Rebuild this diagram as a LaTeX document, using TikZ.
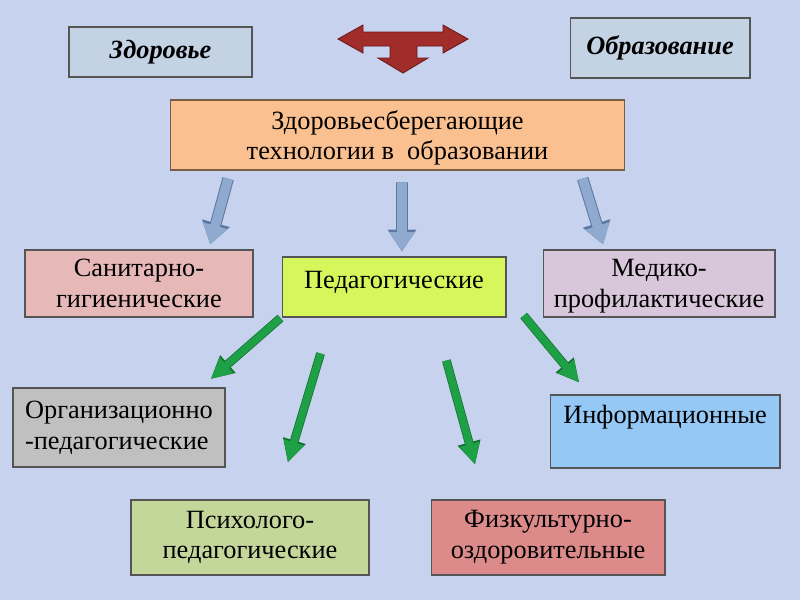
\documentclass[tikz,border=0pt]{standalone}
\usepackage{fontspec}
\setmainfont{Liberation Serif}
\usetikzlibrary{arrows.meta}
\definecolor{FondBleu}{RGB}{198,210,238}
\definecolor{BoiteHaut}{RGB}{196,211,228}
\definecolor{Peche}{RGB}{250,192,143}
\definecolor{Rose}{RGB}{230,184,183}
\definecolor{Citron}{RGB}{214,247,92}
\definecolor{Lilas}{RGB}{216,198,218}
\definecolor{Gris}{RGB}{192,192,192}
\definecolor{CielBleu}{RGB}{150,200,245}
\definecolor{Olive}{RGB}{196,215,155}
\definecolor{Brique}{RGB}{220,138,138}
\definecolor{Bordure}{RGB}{85,85,85}
\definecolor{FlecheBleu}{RGB}{143,170,207}
\definecolor{BordBleu}{RGB}{95,118,160}
\definecolor{FlecheVert}{RGB}{30,160,70}
\definecolor{BordVert}{RGB}{20,110,45}
\definecolor{Rouge}{RGB}{160,45,42}
\definecolor{BordRouge}{RGB}{110,25,25}

\begin{document}
\begin{tikzpicture}[x=0.02cm, y=-0.02cm]

      \tikzset{Boite/.style={rectangle, draw=Bordure, line width=0.6pt, align=center,
          inner sep=2pt, font=\fontsize{15}{17.5}\selectfont}}
      \tikzset{Titre/.style={Boite, fill=BoiteHaut, font=\fontsize{15}{17}\selectfont\bfseries\itshape}}
      \tikzset{Bleue/.style={line width=5.5pt, draw=FlecheBleu,
          -{Triangle[length=11pt, width=13.5pt, fill=FlecheBleu]},
          preaction={draw=BordBleu, line width=6.6pt, -{Triangle[length=12.5pt, width=15.5pt]}}}}
      \tikzset{Verte/.style={line width=4.2pt, draw=FlecheVert,
          -{Triangle[length=12pt, width=11pt, fill=FlecheVert]},
          preaction={draw=BordVert, line width=5pt, -{Triangle[length=13pt, width=12.5pt]}}}}

        % fond
        \fill[FondBleu] (0,0) rectangle (800,600);

        \node[Titre, minimum width=3.66cm, minimum height=1.0cm](Sante) at (160.5,52) {Здоровье};
        \node[Titre, minimum width=3.6cm, minimum height=1.2cm](Educ) at (660,48) {Образование};

        % fleche en T
        \filldraw[fill=Rouge, draw=BordRouge, line width=0.5pt]
          (338,39) -- (363,25) -- (363,32) -- (443,32) -- (443,25) -- (468,39)
          -- (443,53) -- (443,46) -- (417,46) -- (417,58) -- (428,58) -- (403,73)
          -- (378,58) -- (390,58) -- (390,46) -- (363,46) -- (363,53) -- cycle;

        \node[Boite, fill=Peche, draw=Bordure!80!orange, minimum width=9.1cm, minimum height=1.4cm,
          text depth=-4.5pt](Techno) at (397.5,135)
          {Здоровьесберегающие\\ технологии в\ \ образовании};

        \node[Boite, fill=Rose, minimum width=4.56cm, minimum height=1.34cm,
          text depth=-5pt](Sanit) at (139,283.5)
          {Санитарно-\\гигиенические};
        \node[Boite, fill=Citron, minimum width=4.48cm, minimum height=1.2cm,
          text height=11pt, text depth=9pt](Pedag) at (394,287) {Педагогические};
        \node[Boite, fill=Lilas, minimum width=4.64cm, minimum height=1.34cm,
          text depth=-3.6pt](MedProf) at (659,283.5)
          {Медико-\\профилактические};

        \node[Boite, fill=Gris, minimum width=4.24cm, minimum height=1.58cm,
          align=left](OrgPed) at (119,427.5) {Организационно\\-педагогические};
        \node[Boite, fill=CielBleu, minimum width=4.6cm, minimum height=1.46cm,
          text height=11pt, text depth=20pt](Inform) at (665,431.5) {Информационные};

        \node[Boite, fill=Olive, minimum width=4.76cm, minimum height=1.5cm](Psycho) at (250,537.5)
          {Психолого-\\педагогические};
        \node[Boite, fill=Brique, minimum width=4.68cm, minimum height=1.5cm](Physique) at (548,537.5)
          {Физкультурно-\\оздоровительные};

        % fleches bleues
        \draw[Bleue, shorten <=4.8pt, shorten >=3pt] (Techno.192.15) -- (Sanit.26.6);
        \draw[Bleue, shorten <=6.8pt, shorten >=2.8pt] ([xshift=0.09cm]Techno.south) -- ([xshift=0.16cm]Pedag.north);
        \draw[Bleue, shorten <=4.8pt, shorten >=3pt] (Techno.-11.3) -- (MedProf.148.65);

        % fleches vertes
        \draw[Verte, shorten <=0.8pt, shorten >=7.3pt] (Pedag.195.5) -- (OrgPed.26);
        \draw[Verte, shorten <=21.4pt, shorten >=22pt] (Pedag.206.75) -- (Psycho.55.3);
        \draw[Verte, shorten <=25.4pt, shorten >=20.6pt] (Pedag.-37.8) -- (Physique.149.2);
        \draw[Verte, shorten <=15.3pt, shorten >=8.8pt] (Pedag.-4.6) -- (Inform.154.9);

    \end{tikzpicture}
\end{document}
